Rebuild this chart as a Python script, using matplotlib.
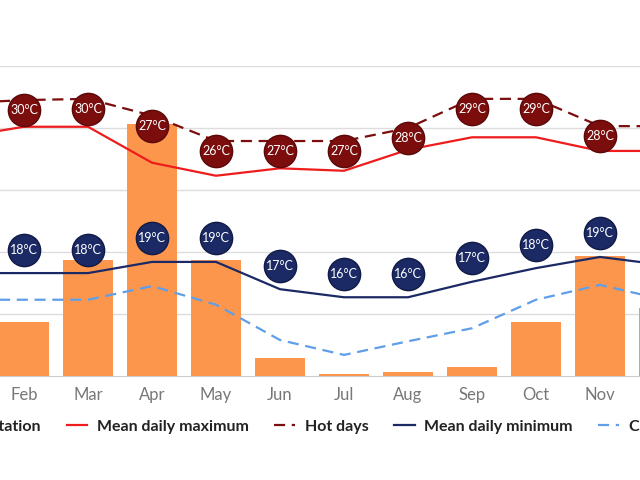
"""Climate chart: precipitation bars with temperature lines."""

import matplotlib.pyplot as plt
import numpy as np

plt.rcParams["font.family"] = ["Lato", "DejaVu Sans"]

months = ["Jan", "Feb", "Mar", "Apr", "May", "Jun", "Jul", "Aug", "Sep", "Oct", "Nov", "Dec"]
# values in chart units (gridlines every 10)
precip = [7.5, 8.7, 18.7, 40.6, 18.7, 2.9, 0.3, 0.6, 1.5, 8.7, 19.4, 11.0]
mean_max = [38.5, 40.2, 40.2, 34.4, 32.3, 33.5, 33.1, 36.5, 38.5, 38.5, 36.3, 36.3]
hot_days = [44.0, 44.5, 44.7, 42.0, 37.9, 37.9, 37.9, 40.0, 44.7, 44.7, 40.3, 40.3]
mean_min = [16.6, 16.6, 16.6, 18.4, 18.4, 14.0, 12.7, 12.7, 15.2, 17.4, 19.2, 17.9]
cold_nights = [12.3, 12.3, 12.3, 14.5, 11.5, 5.8, 3.4, 5.6, 7.7, 12.3, 14.7, 12.3]
hot_labels = [30, 30, 30, 27, 26, 27, 27, 28, 29, 29, 28, 28]
min_labels = [18, 18, 18, 19, 19, 17, 16, 16, 17, 18, 19, 18]

fig = plt.figure(figsize=(6.4, 4.8), dpi=100)
ax = fig.add_axes([0, 1 - 376 / 480, 1, 310 / 480])
x = np.arange(len(months))

ax.bar(x, precip, width=0.78, color="#fd964d", zorder=2, label="Precipitation")
ax.plot(x, mean_max, color="#ee1c1c", lw=1.6, zorder=3, label="Mean daily maximum")
ax.plot(x, hot_days, color="#7b0d0d", lw=1.6, ls=(0, (5, 3)), zorder=3, label="Hot days")
ax.plot(x, mean_min, color="#1b2a64", lw=1.6, zorder=3, label="Mean daily minimum")
ax.plot(x, cold_nights, color="#5f9ee8", lw=1.6, ls=(0, (5, 3)), zorder=3, label="Cold nights")

for xi, v, lab in zip(x, hot_days, hot_labels):
    y = v - 1.6
    ax.scatter(xi, y, s=540, color="#7b0d0d", edgecolor="#5a0808", zorder=5)
    ax.text(xi, y, f"{lab}°C", color="white", fontsize=9, ha="center", va="center", zorder=6)
for xi, v, lab in zip(x, mean_min, min_labels):
    y = v + 3.8
    ax.scatter(xi, y, s=540, color="#1b2a64", edgecolor="#101a45", zorder=5)
    ax.text(xi, y, f"{lab}°C", color="white", fontsize=9, ha="center", va="center", zorder=6)

ax.set_ylim(0, 50)
ax.set_yticks([10, 20, 30, 40, 50])
ax.set_yticklabels([])
ax.tick_params(axis="y", length=0)
ax.grid(axis="y", color="#dddddd", lw=1, zorder=0)
ax.set_xticks(x)
ax.set_xticklabels(months, color="#777777", fontsize=12)
ax.tick_params(axis="x", length=0, pad=8)
for s in ["top", "right", "left"]:
    ax.spines[s].set_visible(False)
ax.spines["bottom"].set_color("#cccccc")

handles, labels = ax.get_legend_handles_labels()
order = [4, 0, 1, 2, 3]
leg = fig.legend([handles[i] for i in order], [labels[i] for i in order], loc="center",
                 bbox_to_anchor=(314 / 640, 1 - 427 / 480), ncol=5, frameon=False,
                 prop={"weight": "bold", "size": 11.5}, handlelength=1.3, handletextpad=0.6,
                 columnspacing=1.6)
for t in leg.get_texts():
    t.set_color("#222222")

ax.set_autoscale_on(False)
ax.set_xlim(0.625, 10.625)
fig.savefig("out.png", dpi=100)
plt.close(fig)
